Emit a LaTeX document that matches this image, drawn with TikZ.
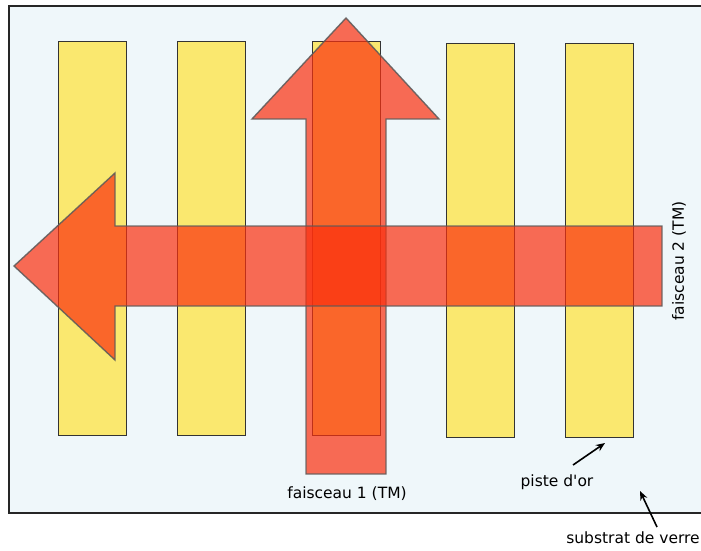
\documentclass[tikz,border=0pt]{standalone}
\usepackage{fontspec}
\setmainfont{DejaVu Sans}
\usetikzlibrary{arrows.meta, positioning}
\definecolor{verreBlue}{HTML}{EFF7FA}
\definecolor{orYellow}{HTML}{FAE86F}
\definecolor{faisRed}{HTML}{FB2F0E}
\definecolor{bordGray}{HTML}{5A5A5A}
\tikzset{
  substrat/.style={draw=black!85, fill=verreBlue, line width=1.3pt},
  piste/.style={rectangle, draw=black!80, fill=orYellow, line width=1.4pt,
                minimum width=68pt, minimum height=394pt, inner sep=0pt,
                anchor=north west},
  faisceau/.style={draw=bordGray, fill=faisRed, fill opacity=0.7,
                   draw opacity=0.85, line width=1.4pt},
  arrowK/.style={-{Stealth[length=3.2mm, width=2.6mm]}, black, line width=1.6pt},
  lbl/.style={font=\fontsize{15.5}{17}\selectfont, inner sep=0pt},
}

\begin{document}
\begin{tikzpicture}[x=1pt, y=-1pt]
    \clip (0,0) rectangle (701,550);
    \fill[white] (0,0) rectangle (701,550);
    \draw[substrat] (9,6) rectangle (720,513);
    % pistes d'or
    \foreach \i/\x/\y in {1/58/41, 2/177/41, 3/312/41, 4/446/43, 5/565/43}
      \node[piste] (piste\i) at (\x,\y) {};
    % faisceaux
    \draw[faisceau] (306,474) -- (306,119) -- (252,119) -- (346,18)
          -- (439,119) -- (386,119) -- (386,474) -- cycle;
    \draw[faisceau] (662,226) -- (115,226) -- (115,173) -- (14,266)
          -- (115,360) -- (115,306) -- (662,306) -- cycle;
    % textes
    \node[lbl] (fais1) at (347,494) {faisceau 1 (TM)};
    \node[lbl, rotate=90] (fais2) at (679,261) {faisceau 2 (TM)};
    \node[lbl] (or) at (557,482) {piste d\textquotesingle or};
    \node[lbl] (verre) at (633,538) {substrat de verre};
    \coordinate (orTail) at (573,465);
    \coordinate (orTip) at (605,443);
    \coordinate (verreTail) at (657,527);
    \coordinate (verreTip) at (640,491);
    \draw[arrowK] (orTail) -- (orTip);
    \draw[arrowK] (verreTail) -- (verreTip);
  \end{tikzpicture}
\end{document}
